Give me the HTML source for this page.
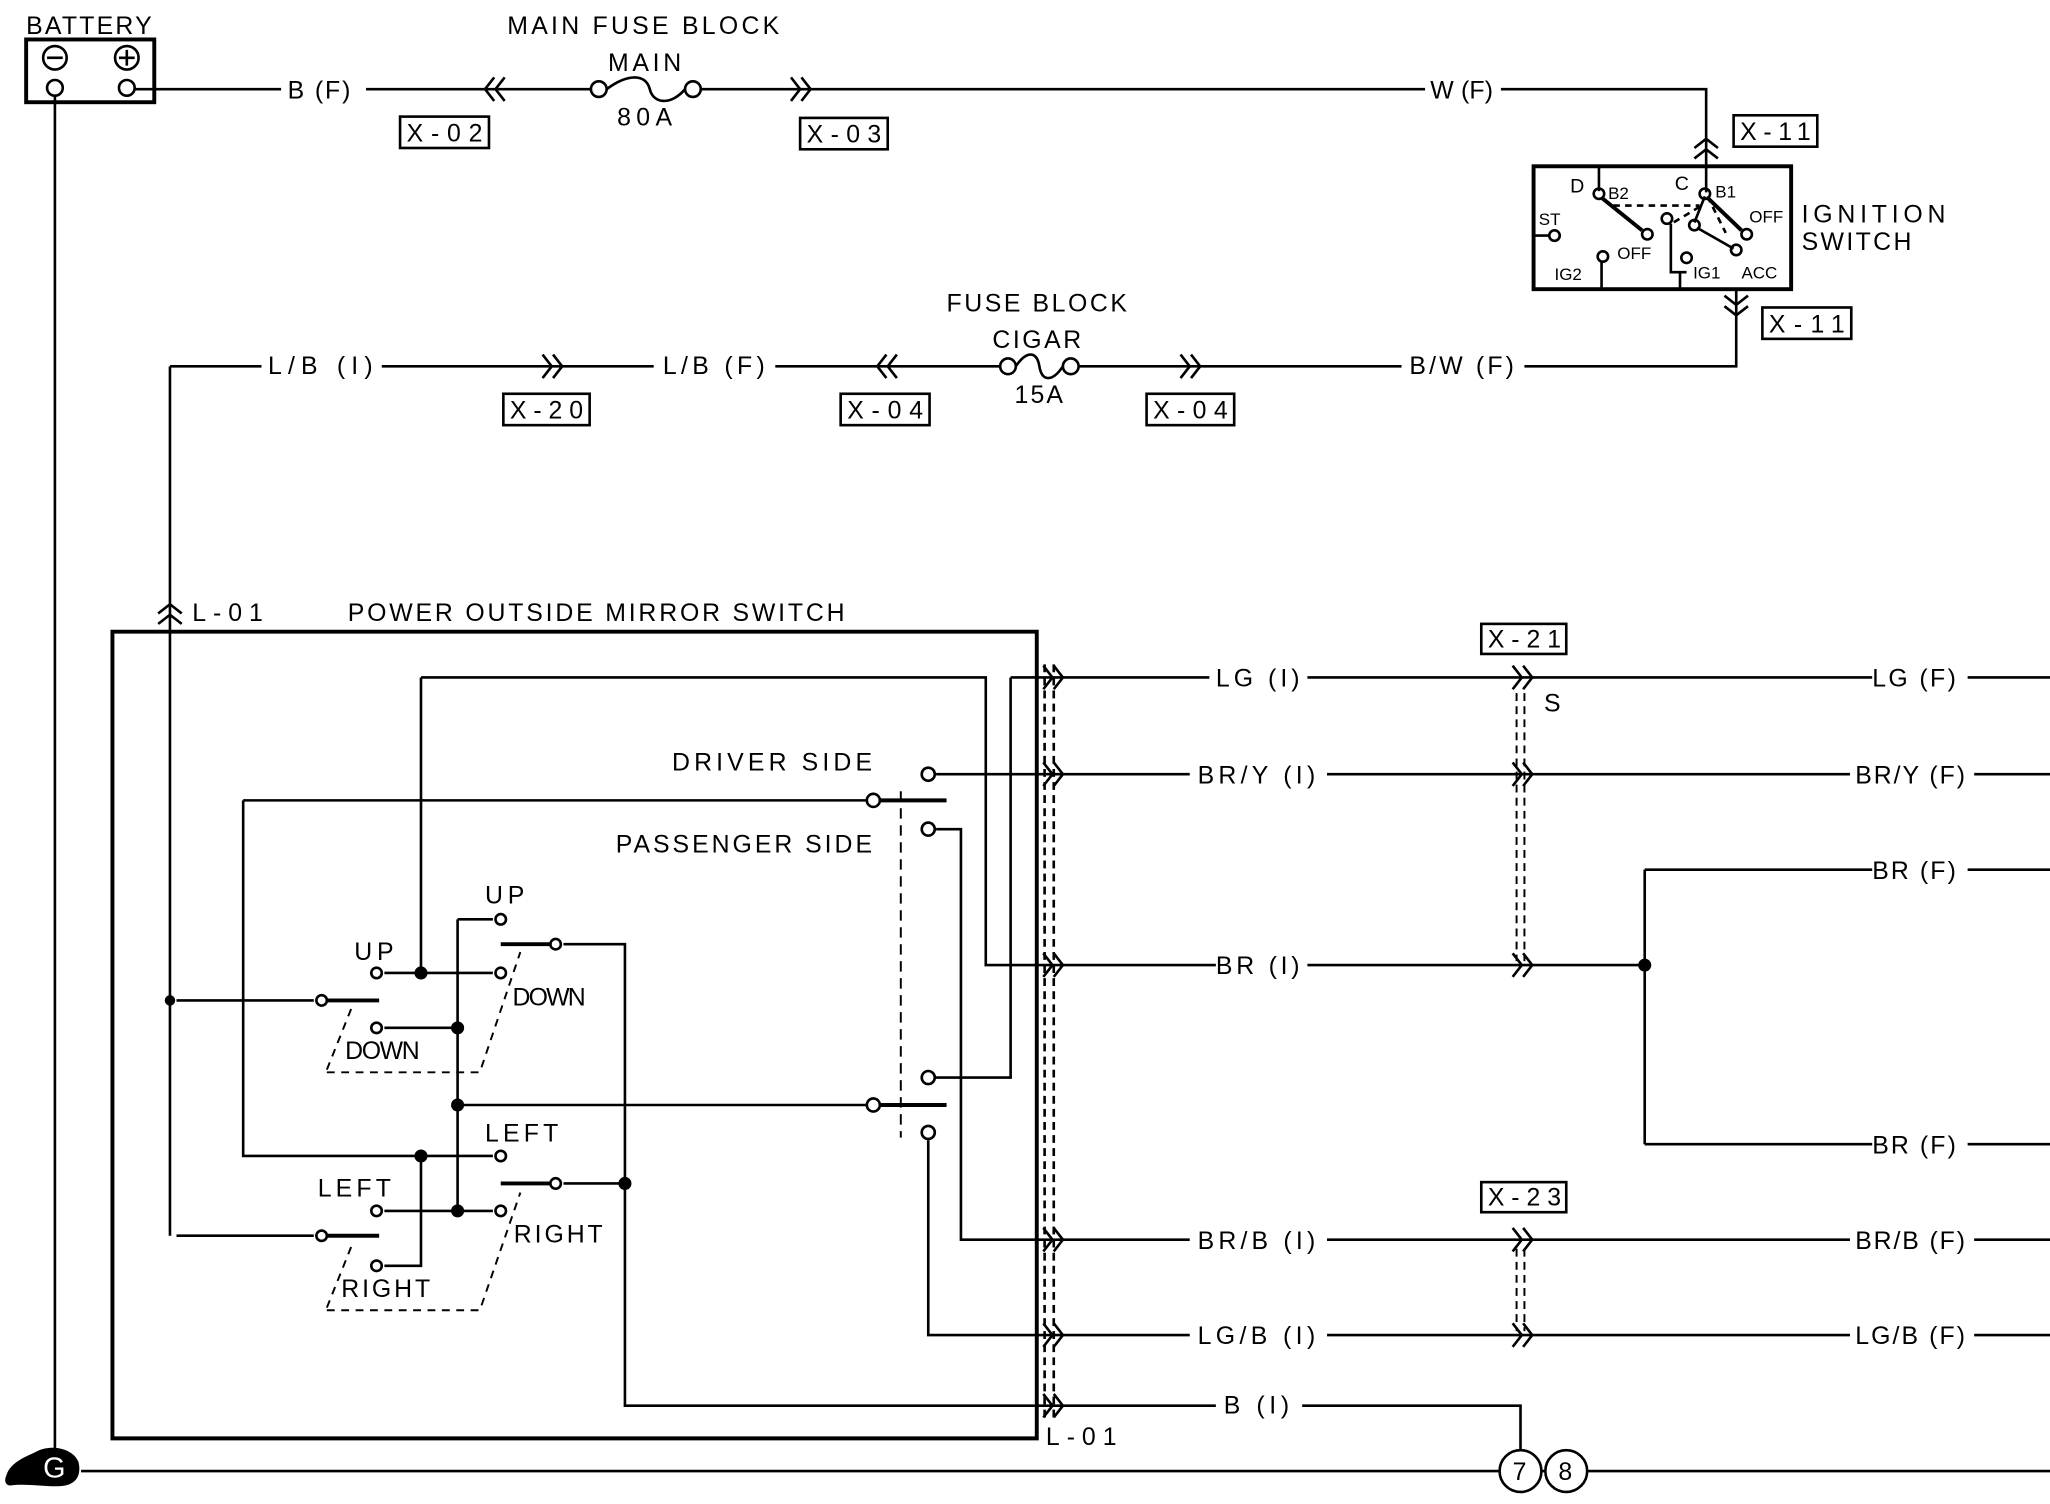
<!DOCTYPE html>
<html><head><meta charset="utf-8"><style>
html,body{margin:0;padding:0;background:#fff;}
svg{display:block;}
text{font-family:"Liberation Sans",sans-serif;font-size:19px;fill:#000;}
</style></head><body>
<svg width="2050" height="1504" viewBox="0 0 1568 1150" xmlns="http://www.w3.org/2000/svg">
<defs>
<g id="cr"><path d="M-9,-9 L-2,0 L-9,9 M-1,-9 L6,0 L-1,9" fill="none" stroke="#000" stroke-width="2"/></g>
<g id="cl"><path d="M9,-9 L2,0 L9,9 M1,-9 L-6,0 L1,9" fill="none" stroke="#000" stroke-width="2"/></g>
<g id="cu"><path d="M-9,9 L0,2 L9,9 M-9,1 L0,-6 L9,1" fill="none" stroke="#000" stroke-width="2"/></g>
<g id="cd"><path d="M-9,-9 L0,-2 L9,-9 M-9,-1 L0,6 L9,-1" fill="none" stroke="#000" stroke-width="2"/></g>
</defs>
<rect width="1568" height="1150" fill="#fff"/>
<g fill="none" stroke="#000" stroke-width="2">
<rect x="20" y="30" width="98" height="48" stroke-width="3"/>
<circle cx="42" cy="44" r="9"/><path d="M36,44h12"/>
<circle cx="97" cy="44" r="9"/><path d="M91,44h12M97,38v12"/>
<circle cx="42" cy="67" r="6"/><circle cx="97" cy="67" r="6"/>
<path d="M42,73V1112"/>
<path d="M103,68H215M280,68H452M536,68H1090M1148,68H1305V126"/>
<circle cx="458" cy="68" r="6"/><circle cx="530" cy="68" r="6"/>
<path d="M464,68 C480,56 494,56 497,68 C500,80 514,80 524,68"/>
<rect x="306" y="89" width="68" height="24"/>
<rect x="612" y="90" width="67" height="24"/>
<rect x="1326" y="88" width="64" height="24"/>
<rect x="1173" y="127" width="197" height="94" stroke-width="3"/>
<path d="M1223,127V146M1173,180H1185M1225,221V200M1285,221V208M1278,171V208H1290M1305,127V147M1328,221V245"/>
<circle cx="1223" cy="148" r="4"/><circle cx="1189" cy="180" r="4"/><circle cx="1226" cy="196" r="4"/>
<circle cx="1260" cy="179" r="4"/><circle cx="1275" cy="167" r="4"/><circle cx="1304" cy="148" r="4"/>
<circle cx="1296" cy="172" r="4"/><circle cx="1290" cy="197" r="4"/><circle cx="1328" cy="191" r="4"/><circle cx="1336" cy="179" r="4"/>
<path d="M1225,151L1256,176M1306,151L1332,176" stroke-width="3"/>
<path d="M1298,174L1326,190M1304,150L1296,170"/>
<path d="M1234,157H1300M1300,158L1280,170M1306,150L1320,178" stroke-dasharray="5,4"/>
<path d="M130,280H200M292,280H500M593,280H765M825,280H1072M1166,280H1328V245"/>
<circle cx="771" cy="280" r="6"/><circle cx="819" cy="280" r="6"/>
<path d="M777,280 C785,268 793,268 795,280 C797,292 805,292 813,280"/>
<rect x="385" y="301" width="66" height="24"/>
<rect x="643" y="301" width="68" height="24"/>
<rect x="877" y="301" width="67" height="24"/>
<rect x="1348" y="235" width="68" height="24"/>
<path d="M130,280V945"/>
<path d="M86,483H793V1100H86Z" stroke-width="3"/>
<path d="M799,508V1088M806,508V1088" stroke-dasharray="6,4"/>
<path d="M322,518H754V738H930M1000,738H1258"/>
<path d="M773,518H925M1000,518H1432M1505,518H1568M773,518V824H715"/>
<path d="M716,592H910M1015,592H1415M1510,592H1568"/>
<path d="M186,612H662M186,612V884H322"/>
<path d="M716,634H735V948H910M1015,948H1415M1510,948H1568"/>
<path d="M710,872V1021H910M1015,1021H1415M1510,1021H1568"/>
<path d="M322,518V744M294,744H377M135,765H240M294,786H350M350,703H377M350,703V926M350,845H662"/>
<path d="M384,722H419M431,722H478V1075H930M996,1075H1163V1109"/>
<path d="M322,884V968H294M322,884H377M294,926H377M135,945H240M384,905H419M431,905H478"/>
<path d="M668,612H724M668,845H724M248,765H290M248,945H290M383,722H425M383,905H425" stroke-width="3"/>
<path d="M1258,665V875M1258,665H1432M1505,665H1568M1258,875H1432M1505,875H1568"/>
<path d="M250,820H367L398,728M250,818L270,768M250,1002H367L398,912M250,1000L270,950" stroke-dasharray="6,5" stroke-width="1.5"/>
<path d="M689,605V870" stroke-dasharray="8,5" stroke-width="1.5"/>
<path d="M1160,530V735M1166,530V735M1160,955V1018M1166,955V1018" stroke-dasharray="6,4" stroke-width="1.5"/>
<rect x="1133" y="477" width="65" height="23"/>
<rect x="1133" y="904" width="65" height="23"/>
<path d="M62,1125H1147M1179,1125H1182M1214,1125H1568"/>
<circle cx="1163" cy="1125" r="16"/><circle cx="1198" cy="1125" r="16"/>
</g>
<g fill="#fff" stroke="#000" stroke-width="2">
<circle cx="288" cy="744" r="4"/><circle cx="383" cy="744" r="4"/><circle cx="383" cy="703" r="4"/>
<circle cx="246" cy="765" r="4"/><circle cx="288" cy="786" r="4"/><circle cx="425" cy="722" r="4"/>
<circle cx="383" cy="884" r="4"/><circle cx="288" cy="926" r="4"/><circle cx="383" cy="926" r="4"/>
<circle cx="246" cy="945" r="4"/><circle cx="288" cy="968" r="4"/><circle cx="425" cy="905" r="4"/>
<circle cx="710" cy="592" r="5"/><circle cx="668" cy="612" r="5"/><circle cx="710" cy="634" r="5"/>
<circle cx="710" cy="824" r="5"/><circle cx="668" cy="845" r="5"/><circle cx="710" cy="866" r="5"/>
</g>
<g fill="#000">
<circle cx="322" cy="744" r="5"/><circle cx="350" cy="786" r="5"/><circle cx="350" cy="845" r="5"/>
<circle cx="322" cy="884" r="5"/><circle cx="350" cy="926" r="5"/><circle cx="478" cy="905" r="5"/>
<circle cx="130" cy="765" r="4"/><circle cx="1258" cy="738" r="5"/>
<path d="M5,1128 C8,1118 20,1114 28,1110 C40,1104 56,1108 60,1118 C62,1126 60,1134 50,1136 C38,1138 22,1134 8,1136 C4,1136 3,1132 5,1128Z"/>
</g>
<text x="33" y="1130" style="fill:#fff;font-size:22px">G</text>
<use href="#cl" x="377" y="68"/><use href="#cr" x="614" y="68"/>
<use href="#cu" x="1305" y="112"/><use href="#cd" x="1328" y="235"/>
<use href="#cr" x="424" y="280"/><use href="#cl" x="677" y="280"/><use href="#cr" x="912" y="280"/>
<use href="#cu" x="130" y="468"/>
<use href="#cr" x="807" y="518"/><use href="#cr" x="807" y="592"/><use href="#cr" x="807" y="738"/>
<use href="#cr" x="807" y="948"/><use href="#cr" x="807" y="1021"/><use href="#cr" x="807" y="1075"/>
<use href="#cr" x="1166" y="518"/><use href="#cr" x="1166" y="592"/><use href="#cr" x="1166" y="738"/>
<use href="#cr" x="1166" y="948"/><use href="#cr" x="1166" y="1021"/>
<text x="20" y="26" textLength="96">BATTERY</text>
<text x="388" y="26" textLength="208">MAIN FUSE BLOCK</text>
<text x="465" y="54" textLength="56">MAIN</text>
<text x="472" y="96" textLength="42">80A</text>
<text x="220" y="75" textLength="48">B (F)</text>
<text x="311" y="108" textLength="58">X-02</text>
<text x="617" y="109" textLength="57">X-03</text>
<text x="1094" y="75" textLength="48">W (F)</text>
<text x="1331" y="107" textLength="54">X-11</text>
<text x="1353" y="254" textLength="58">X-11</text>
<text x="1378" y="170" textLength="110">IGNITION</text>
<text x="1378" y="191" textLength="84">SWITCH</text>
<text x="1201" y="147" style="font-size:15px">D</text>
<text x="1230" y="152" style="font-size:13px">B2</text>
<text x="1281" y="145" style="font-size:15px">C</text>
<text x="1312" y="151" style="font-size:13px">B1</text>
<text x="1338" y="170" style="font-size:13px">OFF</text>
<text x="1177" y="172" style="font-size:13px">ST</text>
<text x="1237" y="198" style="font-size:13px">OFF</text>
<text x="1189" y="214" style="font-size:13px">IG2</text>
<text x="1295" y="213" style="font-size:13px">IG1</text>
<text x="1332" y="213" style="font-size:13px">ACC</text>
<text x="724" y="238" textLength="138">FUSE BLOCK</text>
<text x="759" y="266" textLength="68">CIGAR</text>
<text x="776" y="308" textLength="37">15A</text>
<text x="205" y="286" textLength="80">L/B (I)</text>
<text x="507" y="286" textLength="78">L/B (F)</text>
<text x="1078" y="286" textLength="80">B/W (F)</text>
<text x="390" y="320" textLength="56">X-20</text>
<text x="648" y="320" textLength="58">X-04</text>
<text x="882" y="320" textLength="57">X-04</text>
<text x="147" y="475" textLength="54">L-01</text>
<text x="266" y="475" textLength="380">POWER OUTSIDE MIRROR SWITCH</text>
<text x="514" y="589" textLength="153">DRIVER SIDE</text>
<text x="471" y="652" textLength="196">PASSENGER SIDE</text>
<text x="271" y="734" textLength="30">UP</text>
<text x="371" y="691" textLength="30">UP</text>
<text x="264" y="810" textLength="57">DOWN</text>
<text x="392" y="769" textLength="56">DOWN</text>
<text x="371" y="873" textLength="56">LEFT</text>
<text x="243" y="915" textLength="56">LEFT</text>
<text x="393" y="950" textLength="68">RIGHT</text>
<text x="261" y="992" textLength="68">RIGHT</text>
<text x="930" y="525" textLength="64">LG (I)</text>
<text x="1432" y="525" textLength="64">LG (F)</text>
<text x="1138" y="495" textLength="56">X-21</text>
<text x="1181" y="544">S</text>
<text x="916" y="599" textLength="90">BR/Y (I)</text>
<text x="1419" y="599" textLength="84">BR/Y (F)</text>
<text x="1432" y="672" textLength="64">BR (F)</text>
<text x="930" y="745" textLength="64">BR (I)</text>
<text x="1432" y="882" textLength="64">BR (F)</text>
<text x="1138" y="922" textLength="56">X-23</text>
<text x="916" y="955" textLength="90">BR/B (I)</text>
<text x="1419" y="955" textLength="84">BR/B (F)</text>
<text x="916" y="1028" textLength="90">LG/B (I)</text>
<text x="1419" y="1028" textLength="84">LG/B (F)</text>
<text x="936" y="1081" textLength="50">B (I)</text>
<text x="800" y="1105" textLength="54">L-01</text>
<text x="1157" y="1132">7</text>
<text x="1192" y="1132">8</text>
</svg>
</body></html>
